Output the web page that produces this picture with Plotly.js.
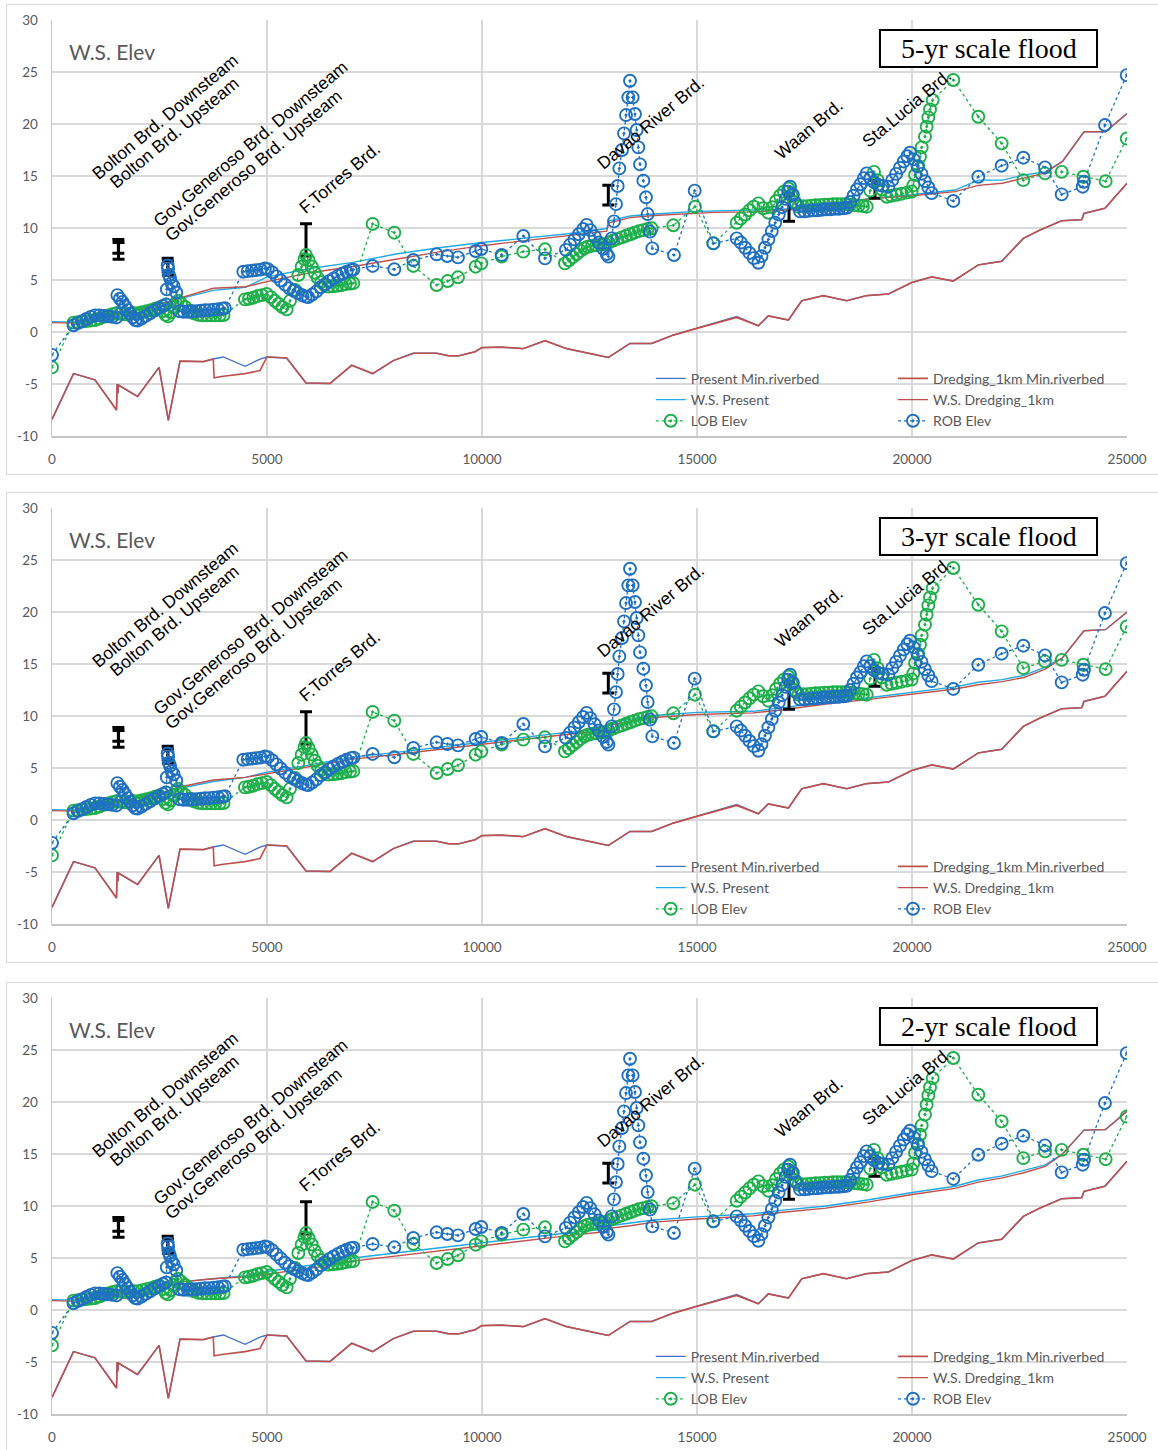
<!DOCTYPE html>
<html>
<head>
<meta charset="utf-8">
<script src="https://cdn.plot.ly/plotly-3.0.1.min.js"></script>
<style>
  html, body { margin: 0; padding: 0; background: #fff; width: 1158px; height: 1450px; overflow: hidden; }
  .panel { position: absolute; left: 6px; width: 1170px; height: 469px; border: 1.5px solid #d9d9d9; background: #fff; }
  .plot { position: absolute; left: 0; top: 0; width: 1170px; height: 469px; }
</style>
</head>
<body>
<div class="panel" style="top:4px"><div id="flood5" class="plot"></div></div>
<div class="panel" style="top:492px"><div id="flood3" class="plot"></div></div>
<div class="panel" style="top:982px"><div id="flood2" class="plot"></div></div>
<script>
// ---- Minimum riverbed profile (distance in m, elevation in m) ----
const bedX = [0, 500, 1000, 1500, 1515, 1530, 1545, 1990, 2490, 2705, 2977, 3520, 3750, 3770, 3985, 4490, 4837, 5000,
  5457, 5907, 6465, 6970, 7458, 7938, 8403, 8946, 9217, 9450, 9837, 9993, 10458, 10960, 11465, 11969, 12938,
  13442, 13946, 14449, 14993, 15923, 16426, 16658, 17126, 17435, 17938, 18481, 18946, 19450, 19993, 20458,
  20961, 21542, 22086, 22589, 22977, 23481, 23946, 24000, 24488, 25000];
const bedPresent = [-8.4, -4.0, -4.6, -7.5, -5.0, -5.9, -5.1, -6.2, -3.4, -8.5, -2.8, -2.85, -2.6, -2.58, -2.4, -3.3, -2.6, -2.4,
  -2.5, -4.9, -4.95, -3.2, -4.0, -2.75, -2.05, -2.05, -2.25, -2.3, -1.9, -1.5, -1.45, -1.6, -0.83, -1.6, -2.45,
  -1.1, -1.1, -0.3, 0.35, 1.5, 0.6, 1.55, 1.15, 3.0, 3.5, 3.0, 3.5, 3.65, 4.75, 5.3,
  4.9, 6.45, 6.8, 9.0, 9.8, 10.7, 10.8, 11.4, 11.9, 14.3];
const bedDredging = [-8.4, -4.0, -4.6, -7.5, -5.0, -5.9, -5.1, -6.2, -3.4, -8.5, -2.8, -2.85, -2.6, -4.4, -4.25, -4.0, -3.7, -2.4,
  -2.5, -4.9, -4.95, -3.2, -4.0, -2.75, -2.05, -2.05, -2.3, -2.3, -1.9, -1.5, -1.45, -1.6, -0.83, -1.6, -2.45,
  -1.1, -1.1, -0.3, 0.35, 1.4, 0.6, 1.55, 1.15, 3.0, 3.5, 3.0, 3.5, 3.65, 4.75, 5.3,
  4.9, 6.45, 6.8, 9.0, 9.8, 10.7, 10.8, 11.4, 11.9, 14.3];

// ---- Water surface stations and levels for each flood scale ----
const wsX = [0, 500, 1000, 1500, 2000, 2700, 3000, 3750, 4500, 5000, 6000, 7000, 8000, 9000, 10000, 11000, 12000,
  12900, 12950, 13450, 14000, 15000, 15400, 16300, 17000, 18000, 19000, 20000, 21000, 21540, 22100, 22600,
  23100, 23500, 24000, 24500, 25000];
const wsPresent5 = [1.0, 0.95, 1.3, 1.7, 2.2, 2.9, 3.2, 4.0, 4.3, 5.3, 6.1, 6.7, 7.5, 8.1, 8.6, 9.0, 9.45,
  9.95, 10.7, 11.15, 11.35, 11.6, 11.65, 11.7, 11.8, 12.1, 12.85, 13.2, 13.65, 14.6, 14.6, 15.1,
  15.4, 16.4, 19.25, 19.25, 21.0];
const wsDredging5 = [0.9, 0.85, 1.25, 1.65, 2.15, 2.9, 3.3, 4.2, 4.35, 4.85, 5.7, 6.3, 7.0, 7.7, 8.3, 8.8, 9.3,
  9.7, 10.5, 11.0, 11.2, 11.45, 11.5, 11.55, 11.7, 12.0, 12.8, 13.1, 13.5, 14.1, 14.3, 14.8,
  15.3, 16.4, 19.25, 19.25, 21.0];
const wsPresent3 = [1.0, 0.95, 1.3, 1.7, 2.2, 2.8, 3.1, 3.7, 4.1, 4.6, 5.3, 6.05, 6.5, 7.0, 7.5, 8.0, 8.45,
  8.8, 9.3, 9.7, 10.05, 10.35, 10.4, 10.45, 10.8, 11.35, 11.75, 12.3, 12.8, 13.25, 13.5, 13.9,
  14.7, 15.6, 18.2, 18.3, 20.0];
const wsDredging3 = [0.9, 0.85, 1.25, 1.65, 2.15, 2.8, 3.2, 3.85, 4.1, 4.45, 5.1, 5.85, 6.3, 6.8, 7.3, 7.8, 8.25,
  8.6, 9.1, 9.5, 9.85, 10.15, 10.2, 10.3, 10.6, 11.15, 11.6, 12.1, 12.6, 13.0, 13.3, 13.7,
  14.5, 15.6, 18.2, 18.3, 20.0];
const wsPresent2 = [1.0, 0.95, 1.3, 1.6, 1.9, 2.4, 2.7, 3.0, 3.3, 3.7, 4.3, 5.0, 5.5, 6.0, 6.45, 6.95, 7.4,
  7.8, 8.1, 8.35, 8.65, 8.95, 9.05, 9.25, 9.6, 10.0, 10.6, 11.3, 11.9, 12.5, 12.9, 13.4,
  13.95, 15.0, 17.3, 17.35, 19.1];
const wsDredging2 = [0.9, 0.85, 1.25, 1.55, 1.85, 2.35, 2.7, 3.0, 3.2, 3.45, 4.0, 4.7, 5.2, 5.7, 6.2, 6.7, 7.15,
  7.55, 7.85, 8.1, 8.45, 8.75, 8.85, 9.05, 9.4, 9.8, 10.4, 11.1, 11.7, 12.3, 12.7, 13.2,
  13.8, 15.0, 17.3, 17.35, 19.1];

// ---- Left bank elevation ----
const lobX = [0,
  500, 600, 700, 800, 900, 1000, 1100, 1200, 1300, 1400, 1500, 1600, 1700, 1800, 1900, 2000, 2100, 2200, 2300, 2400, 2500,
  2580, 2640, 2700, 2760, 2820, 2880, 2930, 3000, 3100, 3200, 3300, 3400, 3500, 3600, 3700, 3800, 3900, 3990,
  4488, 4580, 4680, 4780, 4880, 4993, 5090, 5180, 5270, 5360, 5458, 5535, 5651, 5729, 5806, 5870, 5907, 5970,
  6040, 6110, 6180, 6260, 6340, 6426, 6530, 6630, 6730, 6830, 6930, 7007,
  7457, 7961, 8403, 8945, 9201, 9441, 9852, 9984, 10457, 10961, 11465,
  11930, 12020, 12110, 12200, 12290, 12380, 12460, 12560, 12660, 12760, 12860, 12950, 13050, 13150, 13250, 13350,
  13450, 13550, 13650, 13750, 13850, 13946,
  14449, 14953, 15380,
  15923, 16020, 16120, 16220, 16320, 16427, 16540, 16659, 16750, 16840, 16930, 17020, 17124, 17200, 17280, 17357,
  17460, 17560, 17660, 17760, 17860, 17960, 18060, 18160, 18260, 18360, 18460, 18560, 18660, 18760, 18860, 18946,
  19030, 19116, 19200, 19300, 19411, 19520, 19640, 19760, 19880, 19992,
  20031, 20070, 20147, 20186, 20225, 20302, 20341, 20380, 20419, 20481,
  20961, 21542, 22085, 22589, 23093, 23481, 23985, 24504, 24993];
const lobElev = [-3.4,
  0.9, 0.95, 1.0, 1.05, 1.1, 1.15, 1.3, 1.45, 1.6, 1.7, 1.8, 1.75, 1.7, 1.75, 1.8, 1.8, 1.9, 2.0, 2.1, 2.25, 2.35,
  2.0, 1.65, 1.5, 1.9, 2.4, 2.8, 3.0, 2.75, 2.4, 2.05, 1.8, 1.65, 1.6, 1.6, 1.6, 1.6, 1.6, 1.63,
  3.14, 3.2, 3.3, 3.45, 3.55, 3.65, 3.35, 3.0, 2.7, 2.4, 2.18, 3.0, 4.04, 5.48, 6.28, 7.0, 7.4, 6.9,
  6.3, 5.7, 5.2, 4.8, 4.5, 4.36, 4.4, 4.45, 4.5, 4.6, 4.65, 4.7,
  10.39, 9.55, 6.35, 4.52, 4.9, 5.26, 6.28, 6.6, 7.25, 7.73, 7.95,
  6.6, 6.9, 7.2, 7.5, 7.8, 8.05, 8.2, 8.3, 8.35, 8.4, 8.45, 8.6, 8.8, 8.95, 9.1, 9.25,
  9.4, 9.55, 9.7, 9.8, 9.9, 9.97,
  10.26, 12.05, 8.53,
  10.5, 10.9, 11.3, 11.7, 12.05, 12.37, 11.9, 11.47, 12.0, 12.6, 13.1, 13.5, 13.8, 13.1, 12.5, 12.05,
  12.1, 12.1, 12.15, 12.2, 12.2, 12.25, 12.25, 12.3, 12.3, 12.3, 12.3, 12.25, 12.2, 12.15, 12.1, 12.05,
  13.6, 15.4, 14.6, 13.7, 13.0, 13.1, 13.2, 13.3, 13.4, 13.5,
  14.1, 15.1, 15.96, 16.85, 17.75, 18.78, 19.74, 20.64, 21.4, 22.3,
  24.23, 20.7, 18.14, 14.6, 15.25, 15.4, 14.93, 14.5, 18.6];

// ---- Right bank elevation ----
const robX = [0,
  500, 600, 700, 800, 900, 1000, 1100, 1200, 1300, 1400, 1500,
  1520, 1580, 1640, 1700, 1760, 1820, 1880, 1940, 1990, 2080, 2180, 2280, 2380, 2480, 2580, 2650,
  2670, 2690, 2700, 2720, 2745, 2780, 2830, 2890,
  2960, 3060, 3160, 3260, 3360, 3460, 3560, 3660, 3760, 3860, 3960, 4020,
  4450, 4550, 4650, 4750, 4850, 4950, 5020, 5120, 5220, 5320, 5420, 5520, 5620, 5720, 5820, 5900, 5960,
  6050, 6150, 6250, 6350, 6450, 6550, 6650, 6750, 6850, 6950, 7010,
  7457, 7961, 8403, 8945, 9193, 9441, 9852, 9984, 10457, 10961, 11465,
  11950, 12050, 12150, 12250, 12350, 12434, 12520, 12620, 12720, 12820, 12900, 12940,
  13016, 13070, 13116, 13155, 13194, 13256, 13302, 13349, 13403, 13442, 13504, 13558, 13597, 13636, 13675,
  13752, 13814, 13853, 13907, 13961,
  14465, 14946, 15380,
  15923, 16020, 16120, 16220, 16320, 16427, 16500, 16580, 16660, 16740, 16820, 16900, 16980, 17060, 17120, 17163,
  17230, 17300, 17395, 17500, 17600, 17700, 17800, 17900, 18000, 18100, 18200, 18300, 18400, 18481,
  18560, 18640, 18720, 18800, 18880, 18946, 19030, 19120, 19217, 19320, 19450,
  19540, 19630, 19720, 19810, 19890, 19954, 20040, 20130, 20220, 20300, 20380, 20457,
  20961, 21542, 22085, 22589, 23093, 23481, 23969, 24000, 24488, 24993];
const robElev = [-2.2,
  0.65, 0.85, 1.05, 1.25, 1.45, 1.6, 1.6, 1.55, 1.5, 1.45, 1.4,
  3.55, 3.2, 2.9, 2.5, 2.1, 1.75, 1.4, 1.15, 1.1, 1.3, 1.55, 1.8, 2.05, 2.3, 2.5, 2.65,
  4.1, 6.4, 6.1, 5.5, 5.2, 4.7, 4.4, 3.8,
  2.0, 1.95, 1.95, 2.0, 2.0, 2.05, 2.1, 2.1, 2.15, 2.2, 2.25, 2.3,
  5.8, 5.85, 5.9, 5.95, 6.0, 6.1, 6.05, 5.75, 5.35, 4.95, 4.55, 4.2, 3.95, 3.75, 3.55, 3.4, 3.35,
  3.6, 3.9, 4.3, 4.6, 4.9, 5.15, 5.4, 5.6, 5.8, 5.95, 6.0,
  6.35, 6.03, 6.92, 7.47, 7.31, 7.18, 7.79, 7.98, 7.41, 9.23, 7.08,
  7.9, 8.4, 8.9, 9.4, 9.9, 10.3, 9.8, 9.2, 8.6, 8.0, 7.5, 7.25,
  9.0, 10.64, 12.3, 14.04, 15.73, 17.5, 19.1, 20.86, 22.56, 24.16, 22.56, 20.96, 19.42, 17.75, 16.12,
  14.55, 12.95, 11.34, 9.65, 8.04,
  7.4, 13.59, 8.52,
  9.0, 8.6, 8.1, 7.6, 7.1, 6.66, 7.3, 8.1, 8.9, 9.7, 10.5, 11.3, 12.0, 12.8, 13.5, 13.97,
  13.2, 12.3, 11.6, 11.6, 11.65, 11.7, 11.7, 11.75, 11.8, 11.8, 11.85, 11.85, 11.9, 11.95,
  12.5, 13.1, 13.7, 14.2, 14.8, 15.25, 14.8, 14.4, 14.15, 14.05, 13.97,
  14.6, 15.2, 15.8, 16.4, 16.9, 17.24, 16.6, 15.9, 15.2, 14.5, 13.9, 13.35,
  12.6, 14.93, 15.99, 16.76, 15.83, 13.23, 13.97, 14.45, 19.9, 24.7];

// ---- Bridge clearance marks (bottom / top elevation) ----
const bridgeX = [1543, 1548, 2690, 2695, 5907, 12938, 17140, 19140];
const bridgeLow = [7.57, 7.0, 5.8, 5.45, 7.3, 12.2, 10.65, 12.85];
const bridgeHigh = [8.9, 8.6, 7.1, 6.8, 10.4, 14.1, 13.2, 14.6];

// ---- Bridge names and label anchor points ----
const bridgeNames = ['Bolton Brd. Downsteam', 'Bolton Brd. Upsteam', 'Gov.Generoso Brd. Downsteam',
  'Gov.Generoso Brd. Upsteam', 'F.Torres Brd.', 'Davao River Brd.', 'Waan Brd.', 'Sta.Lucia Brd.'];
const labelX = [2620, 2840, 4610, 4670, 6690, 13920, 17610, 19890];
const labelY = [20.7, 19.1, 18.1, 16.0, 14.8, 20.1, 19.5, 21.5];

// ---- Axis tick labels ----
const yTickVals = [-10, -5, 0, 5, 10, 15, 20, 25, 30];
const yTickText = ['-10', '-5', '0', '5', '10', '15', '20', '25', '30'];

const floodTitles = { flood5: '5-yr scale flood', flood3: '3-yr scale flood', flood2: '2-yr scale flood' };

const TICK_FONT = { family: 'Lato, "Open Sans", sans-serif', size: 13.5, color: '#595959' };
const GRID = '#d9d9d9';
const BLUE_BED = '#4472C4';
const RED_BED = '#C0504D';
const LIGHT_BLUE = '#1EAAE8';
const GREEN = '#1DAF4A';
const BLUE = '#1F70C1';

function drawPanel(divId, wsPresent, wsDredging) {
  const bedPresentTrace = {
    x: bedX, y: bedPresent, type: 'scatter', mode: 'lines', name: 'Present Min.riverbed',
    line: { color: BLUE_BED, width: 1.4 }, legend: 'legend'
  };
  const bedDredgeTrace = {
    x: bedX, y: bedDredging, type: 'scatter', mode: 'lines', name: 'Dredging_1km Min.riverbed',
    line: { color: RED_BED, width: 1.6 }, legend: 'legend2'
  };
  const wsPresentTrace = {
    x: wsX, y: wsPresent, type: 'scatter', mode: 'lines', name: 'W.S. Present',
    line: { color: LIGHT_BLUE, width: 1.4 }, legend: 'legend'
  };
  const wsDredgeTrace = {
    x: wsX, y: wsDredging, type: 'scatter', mode: 'lines', name: 'W.S. Dredging_1km',
    line: { color: RED_BED, width: 1.4 }, legend: 'legend2'
  };
  const mid = bridgeLow.map((lo, i) => (lo + bridgeHigh[i]) / 2);
  const half = bridgeLow.map((lo, i) => (bridgeHigh[i] - lo) / 2);
  const bridgeTrace = {
    x: bridgeX, y: mid, type: 'scatter', mode: 'markers', showlegend: false,
    marker: { size: 1, color: 'rgba(0,0,0,0)' },
    error_y: { type: 'data', array: half, visible: true, color: '#000', thickness: 3, width: 6 }
  };
  const markerStyle = (c) => ({ symbol: 'circle-open-dot', size: 12, color: c, line: { color: c, width: 1.9 } });
  const lobTrace = {
    x: lobX, y: lobElev, type: 'scatter', mode: 'lines+markers', name: 'LOB Elev',
    line: { color: GREEN, width: 1.3, dash: 'dot' }, marker: markerStyle(GREEN), legend: 'legend'
  };
  const robTrace = {
    x: robX, y: robElev, type: 'scatter', mode: 'lines+markers', name: 'ROB Elev',
    line: { color: BLUE, width: 1.3, dash: 'dot' }, marker: markerStyle(BLUE), legend: 'legend2'
  };

  const annotations = bridgeNames.map((t, i) => ({
    x: labelX[i], y: labelY[i], xref: 'x', yref: 'y', text: t, showarrow: false,
    textangle: -40, xanchor: 'center', yanchor: 'middle',
    font: { family: '"Liberation Sans", Arial, sans-serif', size: 17.5, color: '#000' }
  }));
  annotations.push({
    x: 0.014, y: 0.925, xref: 'paper', yref: 'paper', text: 'W.S. Elev', showarrow: false,
    xanchor: 'left', yanchor: 'middle',
    font: { family: 'Lato, "Open Sans", sans-serif', size: 21, color: '#595959' }
  });
  annotations.push({
    x: 0.8712, y: 0.9315, xref: 'paper', yref: 'paper', text: floodTitles[divId], showarrow: false,
    xanchor: 'center', yanchor: 'middle',
    font: { family: '"Liberation Serif", "Times New Roman", serif', size: 28, color: '#000' }
  });

  const legendFont = { family: 'Lato, "Open Sans", sans-serif', size: 14, color: '#595959' };
  const layout = {
    width: 1170, height: 469,
    margin: { l: 45, r: 50, t: 15, b: 38 },
    paper_bgcolor: '#fff', plot_bgcolor: '#fff',
    showlegend: true,
    xaxis: {
      range: [0, 25000], dtick: 5000, tick0: 0, tickformat: 'd',
      showgrid: true, gridcolor: GRID, gridwidth: 1.2, zeroline: false,
      showline: true, linecolor: '#c6c6c6', linewidth: 1.5,
      ticks: '', ticklabelstandoff: 10, tickfont: TICK_FONT
    },
    yaxis: {
      range: [-10, 30], tickmode: 'array', tickvals: yTickVals, ticktext: yTickText,
      showgrid: true, gridcolor: GRID, gridwidth: 1.2, zeroline: false,
      showline: true, linecolor: '#c6c6c6', linewidth: 1.5,
      ticks: '', ticklabelstandoff: 10, tickfont: TICK_FONT
    },
    legend: {
      x: 0.557, xanchor: 'left', y: 0.176, yanchor: 'top', bgcolor: 'rgba(0,0,0,0)',
      font: legendFont, tracegroupgap: 0, orientation: 'v'
    },
    legend2: {
      x: 0.7823, xanchor: 'left', y: 0.176, yanchor: 'top', bgcolor: 'rgba(0,0,0,0)',
      font: legendFont, tracegroupgap: 0, orientation: 'v'
    },
    shapes: [
      { type: 'rect', xref: 'paper', yref: 'paper', x0: 0.538, x1: 0.986, y0: 0.002, y1: 0.195,
        fillcolor: '#fff', line: { width: 0 }, layer: 'between' },
      { type: 'rect', xref: 'paper', yref: 'paper', x0: 0.7702, x1: 0.9721, y0: 0.887, y1: 0.976,
        fillcolor: '#fff', line: { color: '#000', width: 2 }, layer: 'above' }
    ],
    annotations: annotations
  };

  Plotly.newPlot(divId,
    [bedPresentTrace, bedDredgeTrace, wsPresentTrace, wsDredgeTrace, bridgeTrace, lobTrace, robTrace],
    layout, { staticPlot: true, displayModeBar: false });
}

drawPanel('flood5', wsPresent5, wsDredging5);
drawPanel('flood3', wsPresent3, wsDredging3);
drawPanel('flood2', wsPresent2, wsDredging2);
</script>
</body>
</html>
